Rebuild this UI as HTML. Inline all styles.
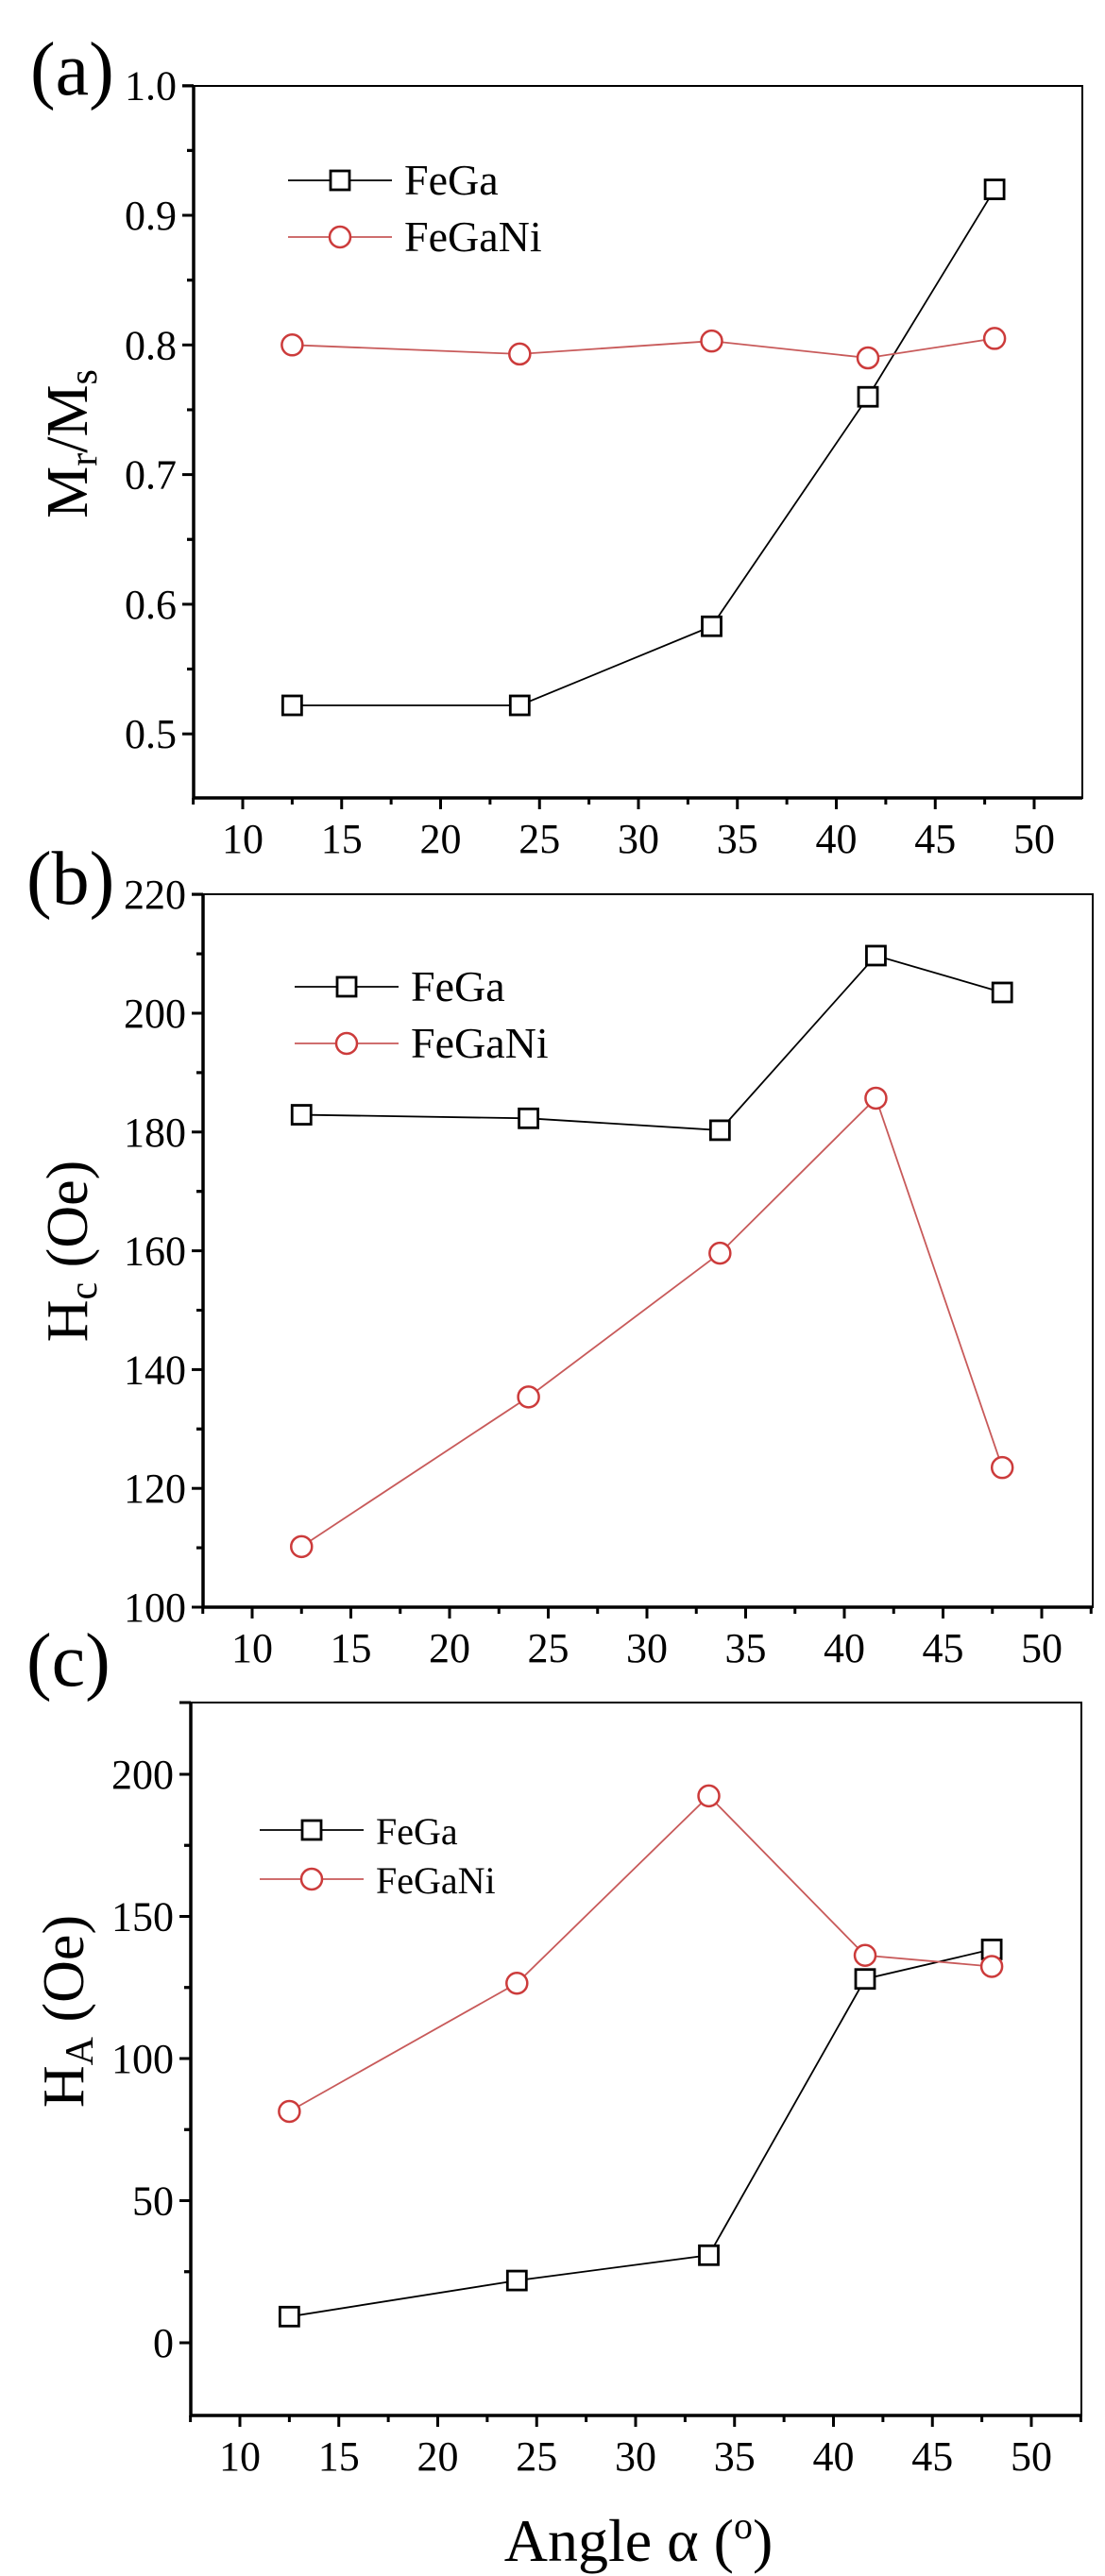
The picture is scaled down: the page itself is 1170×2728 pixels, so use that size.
<!DOCTYPE html>
<html><head><meta charset="utf-8">
<style>
html,body{margin:0;padding:0;background:#fff;}
svg{display:block;font-family:"Liberation Serif",serif;}
svg text{font-family:"Liberation Serif",serif;}
</style></head>
<body>
<svg id="fig" width="1170" height="2728" viewBox="0 0 1170 2728" xmlns="http://www.w3.org/2000/svg"></svg>
<script>
const angles = [12.5, 24, 33.7, 41.6, 48];
const xTicks = [10, 15, 20, 25, 30, 35, 40, 45, 50];
const mrFeGa = [0.522, 0.522, 0.583, 0.760, 0.920];
const mrFeGaNi = [0.800, 0.793, 0.803, 0.790, 0.805];
const mrTicks = ["0.5", "0.6", "0.7", "0.8", "0.9", "1.0"];
const hcFeGa = [182.9, 182.3, 180.3, 209.7, 203.5];
const hcFeGaNi = [110.2, 135.4, 159.6, 185.7, 123.5];
const hcTicks = ["100", "120", "140", "160", "180", "200", "220"];
const haFeGa = [9.2, 21.9, 30.8, 128, 138.4];
const haFeGaNi = [81.4, 126.5, 192.4, 136.3, 132.4];
const haTicks = ["0", "50", "100", "150", "200"];
const seriesNames = ["FeGa", "FeGaNi"];

const NS = "http://www.w3.org/2000/svg";
const svg = document.getElementById("fig");
const FF = '"Liberation Serif", serif';
function el(tag, attrs, parent) {
  const e = document.createElementNS(NS, tag);
  for (const k in attrs) e.setAttribute(k, attrs[k]);
  if (tag === "text") e.setAttribute("font-family", FF);
  (parent || svg).appendChild(e);
  return e;
}
const BLACK = "#000", RED = "#cc3b3b", REDLINE = "#c85a5a";

function panel(p) {
  const g = el("g", {});
  
  
  const xs = v => p.x10 + (v - 10) * p.xu;
  const ys = v => p.y0 - (v - p.v0) * p.yu;
  const fr = el("rect", {x: p.L, y: p.T, width: p.R - p.L, height: p.B - p.T, fill: "none", stroke: "#000", "stroke-width": 2}, g);
  
  
  const la = el("line", {x1: p.L, y1: p.T, x2: p.L, y2: p.B + 1.5, stroke: "#000", "stroke-width": 3.5}, g);
  
  
  const ba = el("line", {x1: p.L - 1.5, y1: p.B, x2: p.R, y2: p.B, stroke: "#000", "stroke-width": 3.5}, g);
  
  
  const tl = el("line", {x1: p.L - 12, y1: p.T, x2: p.L, y2: p.T, stroke: "#000", "stroke-width": 3}, g);
  
  
  for (let v = 7.5; v <= 52.5; v += 2.5) {
    const X = xs(v);
    if (X < p.L - 1 || X > p.R) continue;
    const major = Math.abs(v % 5) < 1e-6;
    const t = el("line", {x1: X, y1: p.B, x2: X, y2: p.B + (major ? 12 : 7), stroke: "#000", "stroke-width": 3}, g);
    
    
  }
  xTicks.forEach(v => {
    const t = el("text", {x: xs(v), y: p.B + 58, "font-size": 44, "text-anchor": "middle"}, g);
    t.textContent = v;
    
    
  });
  p.ticks.forEach((lab, i) => {
    const v = parseFloat(lab);
    const Y = ys(v);
    const t = el("line", {x1: p.L - 12, y1: Y, x2: p.L, y2: Y, stroke: "#000", "stroke-width": 3}, g);
    
    
    const tx = el("text", {x: p.L - 18, y: Y + 15, "font-size": 44, "text-anchor": "end"}, g);
    tx.textContent = lab;
    
    
    const MY = ys(v + p.step / 2), MY2 = ys(v - p.step / 2);
    [MY, MY2].forEach(yy => {
      if (yy > p.T + 2 && yy < p.B - 2) {
        const m = el("line", {x1: p.L - 7, y1: yy, x2: p.L, y2: yy, stroke: "#000", "stroke-width": 3}, g);
        
        
      }
    });
  });
  const series = [[p.a, BLACK, BLACK, "sq"], [p.b, REDLINE, RED, "ci"]];
  series.forEach(([vals, lc, mc, mk], si) => {
    const pts = vals.map((v, i) => xs(angles[i]) + "," + ys(v)).join(" ");
    const pl = el("polyline", {points: pts, fill: "none", stroke: lc, "stroke-width": 1.8}, g);
    
    
    vals.forEach((v, i) => {
      let m;
      if (mk === "sq") m = el("rect", {x: xs(angles[i]) - 10, y: ys(v) - 10, width: 20, height: 20, fill: "#fff", stroke: mc, "stroke-width": 2.8}, g);
      else m = el("circle", {cx: xs(angles[i]), cy: ys(v), r: 11, fill: "#fff", stroke: mc, "stroke-width": 2.5}, g);
      
      
    });
  });
  [[BLACK, BLACK, "sq", p.lg[1]], [REDLINE, RED, "ci", p.lg[2]]].forEach(([lc, mc, mk, ly], si) => {
    const lx = p.lg[0];
    const ln = el("line", {x1: lx - 55, y1: ly, x2: lx + 55, y2: ly, stroke: lc, "stroke-width": 1.8}, g);
    
    
    let m;
    if (mk === "sq") m = el("rect", {x: lx - 10, y: ly - 10, width: 20, height: 20, fill: "#fff", stroke: mc, "stroke-width": 2.8}, g);
    else m = el("circle", {cx: lx, cy: ly, r: 11, fill: "#fff", stroke: mc, "stroke-width": 2.5}, g);
    
    
    const t = el("text", {x: lx + 68, y: ly + 15, "font-size": p.lfs}, g);
    t.textContent = seriesNames[si];
    
    
  });
  const pl = el("text", {x: p.lab[0], y: p.lab[1], "font-size": 80}, g);
  pl.textContent = p.letter;
  
  
  const yt = el("text", {x: 0, y: 0, "font-size": 62, "text-anchor": "middle", transform: `translate(${p.yt[0]},${p.yt[1]}) rotate(-90)`}, g);
  yt.innerHTML = p.ytitle;
  
  
}

panel({name: "mr", L: 205, R: 1146, T: 91, B: 845, x10: 257, xu: 20.95, v0: 0.9, y0: 228, yu: 1373,
  step: 0.1, ticks: mrTicks, a: mrFeGa, b: mrFeGaNi, lg: [360, 191, 251], lfs: 46,
  lab: [32, 100], letter: "(a)", yt: [92, 470],
  ytitle: 'M<tspan font-size="42" dy="10">r</tspan><tspan dy="-10">/M</tspan><tspan font-size="42" dy="10">s</tspan>'});
panel({name: "hc", L: 215, R: 1157, T: 947, B: 1702, x10: 267, xu: 20.9, v0: 100, y0: 1702, yu: 6.29,
  step: 20, ticks: hcTicks, a: hcFeGa, b: hcFeGaNi, lg: [367, 1045, 1105], lfs: 46,
  lab: [28, 957], letter: "(b)", yt: [92, 1325],
  ytitle: 'H<tspan font-size="42" dy="10">c</tspan><tspan dy="-10"> (Oe)</tspan>'});
panel({name: "ha", L: 202, R: 1145, T: 1803, B: 2558, x10: 254, xu: 20.95, v0: 0, y0: 2481, yu: 3.01,
  step: 50, ticks: haTicks, a: haFeGa, b: haFeGaNi, lg: [330, 1938, 1990], lfs: 40,
  lab: [28, 1785], letter: "(c)", yt: [88, 2130],
  ytitle: 'H<tspan font-size="42" dy="10">A</tspan><tspan dy="-10"> (Oe)</tspan>'});

const xt = el("text", {x: 676, y: 2712, "font-size": 64, "text-anchor": "middle"});
xt.innerHTML = 'Angle α (<tspan font-size="40" dy="-24">o</tspan><tspan dy="24">)</tspan>';


</script>
</body></html>
